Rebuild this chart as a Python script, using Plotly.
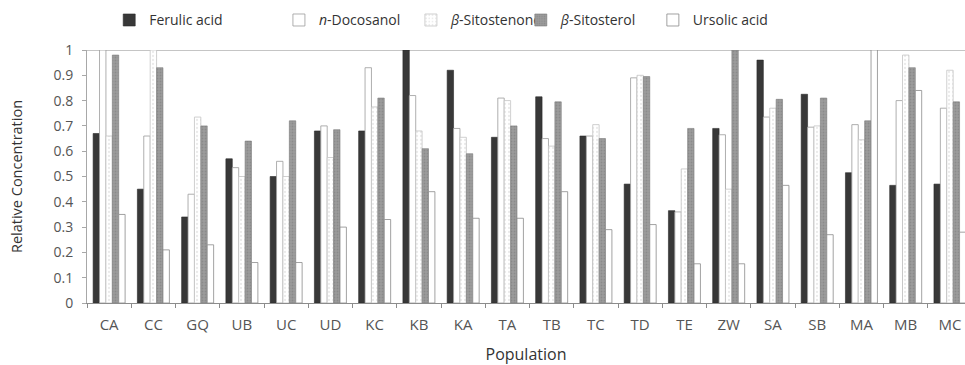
import plotly.graph_objects as go

populations = ["CA", "CC", "GQ", "UB", "UC", "UD", "KC", "KB", "KA", "TA",
               "TB", "TC", "TD", "TE", "ZW", "SA", "SB", "MA", "MB", "MC"]
ferulic = [0.67, 0.45, 0.34, 0.57, 0.50, 0.68, 0.68, 1.00, 0.92, 0.655,
           0.815, 0.66, 0.47, 0.365, 0.69, 0.96, 0.825, 0.515, 0.465, 0.47]
docosanol = [1.00, 0.66, 0.43, 0.535, 0.56, 0.70, 0.93, 0.82, 0.69, 0.81,
             0.65, 0.66, 0.89, 0.36, 0.665, 0.735, 0.695, 0.705, 0.80, 0.77]
sitostenone = [0.66, 1.00, 0.735, 0.50, 0.50, 0.575, 0.775, 0.68, 0.655, 0.80,
               0.62, 0.705, 0.90, 0.53, 0.45, 0.77, 0.70, 0.645, 0.98, 0.92]
sitosterol = [0.98, 0.93, 0.70, 0.64, 0.72, 0.685, 0.81, 0.61, 0.59, 0.70,
              0.795, 0.65, 0.895, 0.69, 1.00, 0.805, 0.81, 0.72, 0.93, 0.795]
ursolic = [0.35, 0.21, 0.23, 0.16, 0.16, 0.30, 0.33, 0.44, 0.335, 0.335,
           0.44, 0.29, 0.31, 0.155, 0.155, 0.465, 0.27, 1.00, 0.84, 0.28]

y_ticks = [0, 0.1, 0.2, 0.3, 0.4, 0.5, 0.6, 0.7, 0.8, 0.9, 1]
y_tick_labels = ["0", "0.1", "0.2", "0.3", "0.4", "0.5", "0.6", "0.7", "0.8", "0.9", "1"]

FONT = "Open Sans"

series = [
    ("Ferulic acid", ferulic, dict(color="#383838", line=dict(color="#2a2a2a", width=0.6))),
    ("<i>n</i>-Docosanol", docosanol, dict(color="white", line=dict(color="#9a9a9a", width=0.8))),
    ("<i>β</i>-Sitostenone", sitostenone, dict(color="white", line=dict(color="#c4c4c4", width=0.8),
                                          pattern=dict(shape=".", fgcolor="#d6d6d6", bgcolor="white",
                                                       size=4, solidity=0.25))),
    ("<i>β</i>-Sitosterol", sitosterol, dict(color="#929292", line=dict(color="#7a7a7a", width=0.6),
                                         pattern=dict(shape=".", fgcolor="#777777", bgcolor="#9c9c9c",
                                                      size=3, solidity=0.3))),
    ("Ursolic acid", ursolic, dict(color="white", line=dict(color="#8a8a8a", width=0.8))),
]

legend_names = ["legend", "legend2", "legend3", "legend4", "legend5"]
legend_x = [0.0253, 0.2186, 0.3689, 0.4941, 0.6445]

fig = go.Figure()
for (name, vals, marker), lg in zip(series, legend_names):
    fig.add_trace(go.Bar(x=populations, y=vals, name=name, marker=marker, legend=lg))

layout_legends = {}
for lg, lx in zip(legend_names, legend_x):
    layout_legends[lg] = dict(
        x=lx, y=1.117, xanchor="left", yanchor="middle",
        orientation="h", bgcolor="rgba(0,0,0,0)",
        font=dict(family=FONT, size=14, color="#333333"),
        itemwidth=30,
    )

fig.update_layout(
    width=965, height=365,
    margin=dict(l=87, r=0, t=50, b=62, autoexpand=False),
    paper_bgcolor="white", plot_bgcolor="white",
    barmode="group", bargap=0.277, bargroupgap=0,
    font=dict(family=FONT, size=13, color="#555555"),
    showlegend=True,
    shapes=[dict(type="line", xref="paper", x0=0, x1=1, yref="y", y0=1, y1=1,
                 line=dict(color="#8c8c8c", width=1), layer="below")],
    **layout_legends,
)

fig.update_xaxes(
    type="category",
    range=[-0.5, 19.34], automargin=False,
    showline=True, linecolor="#8c8c8c", linewidth=1, mirror=False,
    ticks="outside", tickson="boundaries", ticklen=4, tickcolor="#8c8c8c",
    ticklabelstandoff=8,
    tickfont=dict(family=FONT, size=15, color="#555555"),
    showgrid=False,
    title=dict(text="Population", font=dict(family=FONT, size=16, color="#333333"), standoff=16),
)
fig.update_yaxes(
    range=[0, 1], automargin=False,
    tickvals=y_ticks, ticktext=y_tick_labels,
    showline=True, linecolor="#a8a8a8", linewidth=1,
    ticks="outside", ticklen=4, tickcolor="#a8a8a8",
    ticklabelstandoff=6,
    tickfont=dict(family=FONT, size=14, color="#555555"),
    showgrid=False, zeroline=False,
    title=dict(text="Relative Concentration", font=dict(family=FONT, size=14.5, color="#333333"), standoff=27),
)

fig.write_html("out.html")
